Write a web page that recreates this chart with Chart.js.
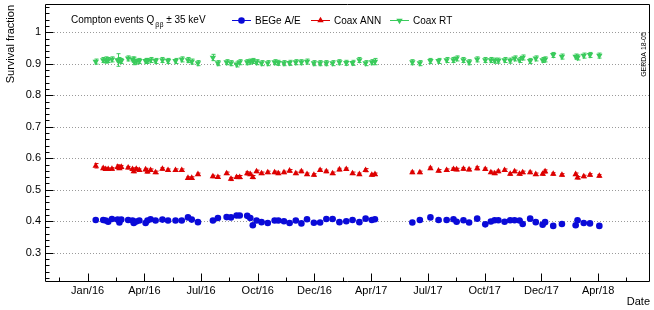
<!DOCTYPE html>
<html>
<head>
<meta charset="utf-8">
<script src="https://cdn.jsdelivr.net/npm/chart.js@4/dist/chart.umd.min.js"></script>
<style>
  html, body { margin: 0; padding: 0; background: #fff; }
  #wrap { width: 654px; height: 310px; }
</style>
</head>
<body>
<div id="wrap"><canvas id="chart" width="654" height="310"></canvas></div>
<script>
// calibration runs, days after the Jan/16 tick
const dates = [13, 25, 29, 33, 39, 48, 51, 54, 65, 72,
  74, 78, 83, 93, 96, 101, 109, 120, 129, 141,
  151, 161, 167, 177, 201, 209, 223, 230, 239, 244,
  256, 261, 265, 271, 279, 289, 300, 306, 315, 324,
  334, 343, 352, 363, 373, 383, 393, 404, 415, 425,
  436, 446, 456, 461, 521, 533, 550, 563, 576, 587,
  592, 603, 612, 625, 638, 647, 653, 659, 669, 678,
  685, 693, 698, 710, 719, 730, 734, 747, 761, 783,
  786, 796, 806, 821];

const begeAE = [0.404, 0.404, 0.402, 0.398, 0.407, 0.405, 0.396, 0.405, 0.404, 0.402,
  0.394, 0.399, 0.402, 0.394, 0.402, 0.406, 0.402, 0.405, 0.402, 0.402,
  0.402, 0.412, 0.405, 0.397, 0.402, 0.410, 0.413, 0.412, 0.418, 0.418,
  0.417, 0.410, 0.387, 0.402, 0.397, 0.394, 0.402, 0.402, 0.400, 0.394,
  0.402, 0.393, 0.406, 0.395, 0.396, 0.407, 0.407, 0.397, 0.400, 0.404,
  0.397, 0.408, 0.404, 0.406, 0.396, 0.404, 0.412, 0.404, 0.404, 0.406,
  0.398, 0.403, 0.396, 0.408, 0.390, 0.399, 0.403, 0.403, 0.398, 0.403,
  0.403, 0.402, 0.391, 0.408, 0.397, 0.389, 0.397, 0.385, 0.391, 0.387,
  0.403, 0.394, 0.393, 0.385];
const begeErr = [0.002, 0.002, 0.002, 0.002, 0.002, 0.002, 0.002, 0.002, 0.002, 0.002,
  0.002, 0.002, 0.002, 0.002, 0.002, 0.002, 0.002, 0.002, 0.002, 0.002,
  0.002, 0.002, 0.002, 0.002, 0.002, 0.002, 0.002, 0.002, 0.002, 0.002,
  0.002, 0.002, 0.002, 0.002, 0.002, 0.002, 0.002, 0.002, 0.002, 0.002,
  0.002, 0.002, 0.002, 0.002, 0.002, 0.002, 0.002, 0.002, 0.002, 0.002,
  0.002, 0.002, 0.002, 0.002, 0.002, 0.002, 0.002, 0.002, 0.002, 0.002,
  0.002, 0.002, 0.002, 0.002, 0.002, 0.002, 0.002, 0.002, 0.002, 0.002,
  0.002, 0.002, 0.002, 0.002, 0.002, 0.002, 0.002, 0.002, 0.002, 0.002,
  0.002, 0.002, 0.002, 0.002];

const coaxANN = [0.576, 0.568, 0.565, 0.565, 0.566, 0.572, 0.568, 0.572, 0.570, 0.565,
  0.558, 0.566, 0.562, 0.564, 0.557, 0.562, 0.555, 0.566, 0.562, 0.562,
  0.562, 0.537, 0.537, 0.549, 0.542, 0.540, 0.552, 0.534, 0.540, 0.540,
  0.552, 0.549, 0.540, 0.558, 0.552, 0.555, 0.555, 0.552, 0.555, 0.560,
  0.552, 0.558, 0.549, 0.547, 0.562, 0.558, 0.552, 0.564, 0.565, 0.552,
  0.549, 0.562, 0.547, 0.549, 0.555, 0.555, 0.568, 0.560, 0.562, 0.565,
  0.564, 0.566, 0.564, 0.568, 0.565, 0.555, 0.552, 0.558, 0.562, 0.550,
  0.558, 0.550, 0.555, 0.555, 0.549, 0.550, 0.558, 0.550, 0.547, 0.549,
  0.538, 0.542, 0.547, 0.544];
const annErr = [0.007, 0.004, 0.004, 0.004, 0.004, 0.007, 0.004, 0.005, 0.004, 0.004,
  0.004, 0.004, 0.004, 0.004, 0.004, 0.004, 0.004, 0.004, 0.004, 0.004,
  0.004, 0.004, 0.004, 0.004, 0.004, 0.004, 0.004, 0.005, 0.005, 0.005,
  0.005, 0.004, 0.005, 0.004, 0.004, 0.004, 0.004, 0.004, 0.004, 0.004,
  0.004, 0.004, 0.004, 0.004, 0.004, 0.004, 0.004, 0.004, 0.004, 0.004,
  0.004, 0.005, 0.004, 0.004, 0.004, 0.004, 0.004, 0.004, 0.004, 0.004,
  0.004, 0.004, 0.004, 0.005, 0.004, 0.004, 0.004, 0.004, 0.004, 0.004,
  0.004, 0.004, 0.004, 0.004, 0.004, 0.004, 0.005, 0.004, 0.004, 0.004,
  0.004, 0.004, 0.004, 0.004];

const coaxRT = [0.907, 0.912, 0.912, 0.912, 0.914, 0.912, 0.912, 0.909, 0.917, 0.914,
  0.909, 0.907, 0.909, 0.909, 0.909, 0.912, 0.909, 0.912, 0.909, 0.909,
  0.914, 0.912, 0.907, 0.902, 0.920, 0.902, 0.905, 0.902, 0.898, 0.905,
  0.905, 0.907, 0.909, 0.905, 0.902, 0.902, 0.905, 0.903, 0.902, 0.903,
  0.905, 0.905, 0.907, 0.902, 0.902, 0.902, 0.902, 0.905, 0.903, 0.903,
  0.912, 0.902, 0.905, 0.907, 0.905, 0.902, 0.909, 0.909, 0.912, 0.912,
  0.917, 0.912, 0.905, 0.914, 0.912, 0.912, 0.910, 0.910, 0.912, 0.910,
  0.917, 0.912, 0.920, 0.909, 0.917, 0.912, 0.914, 0.928, 0.923, 0.923,
  0.920, 0.926, 0.928, 0.926];
const rtErr = [0.008, 0.008, 0.010, 0.008, 0.008, 0.020, 0.008, 0.008, 0.008, 0.008,
  0.012, 0.008, 0.008, 0.008, 0.008, 0.008, 0.008, 0.008, 0.008, 0.008,
  0.008, 0.008, 0.008, 0.008, 0.010, 0.008, 0.008, 0.008, 0.008, 0.008,
  0.008, 0.008, 0.008, 0.008, 0.008, 0.008, 0.008, 0.008, 0.008, 0.008,
  0.008, 0.008, 0.008, 0.008, 0.008, 0.008, 0.008, 0.008, 0.008, 0.008,
  0.008, 0.008, 0.008, 0.010, 0.008, 0.008, 0.008, 0.008, 0.008, 0.008,
  0.008, 0.008, 0.008, 0.008, 0.008, 0.008, 0.008, 0.008, 0.008, 0.008,
  0.008, 0.008, 0.008, 0.008, 0.008, 0.008, 0.008, 0.008, 0.008, 0.008,
  0.008, 0.008, 0.008, 0.008];

const xTickLabels = ['Jan/16', 'Apr/16', 'Jul/16', 'Oct/16', 'Dec/16', 'Apr/17', 'Jul/17', 'Oct/17', 'Dec/17', 'Apr/18'];
const xTickStep = 91;
const yTicks = [0.3, 0.4, 0.5, 0.6, 0.7, 0.8, 0.9, 1];

const FONT = "'Liberation Sans', Arial, Helvetica, sans-serif";
const BLUE = '#0a0ad8', RED = '#dd0000', GREEN = '#3acb5c';

const series = [
  { label: 'BEGe A/E', values: begeAE, errors: begeErr, color: BLUE, style: 'circle', rotation: 0, radius: 3.3 },
  { label: 'Coax ANN', values: coaxANN, errors: annErr, color: RED, style: 'triangle', rotation: 0, radius: 3.7 },
  { label: 'Coax RT', values: coaxRT, errors: rtErr, color: GREEN, style: 'triangle', rotation: 180, radius: 3.7 }
];

function marker(ctx, s, x, y) {
  ctx.fillStyle = s.color;
  ctx.beginPath();
  if (s.style === 'circle') {
    ctx.arc(x, y, s.radius, 0, Math.PI * 2);
  } else {
    const r = s.radius, d = s.rotation ? -1 : 1;
    ctx.moveTo(x, y - d * r);
    ctx.lineTo(x + r * 0.866, y + d * r * 0.5);
    ctx.lineTo(x - r * 0.866, y + d * r * 0.5);
    ctx.closePath();
  }
  ctx.fill();
}

const rootFrame = {
  id: 'rootFrame',
  beforeDatasetsDraw(chart) {
    const { ctx, chartArea: a, scales: { x, y } } = chart;
    ctx.save();
    // dotted grid at labelled y values
    ctx.strokeStyle = '#9a9a9a';
    ctx.lineWidth = 1;
    ctx.setLineDash([1, 2]);
    yTicks.forEach(v => {
      const py = Math.round(y.getPixelForValue(v)) + 0.5;
      ctx.beginPath();
      ctx.moveTo(a.left, py);
      ctx.lineTo(a.right, py);
      ctx.stroke();
    });
    ctx.setLineDash([]);
    // error bars
    series.forEach(s => {
      ctx.strokeStyle = s.color;
      dates.forEach((d, i) => {
        const px = Math.round(x.getPixelForValue(d)) + 0.5;
        const lo = y.getPixelForValue(s.values[i] - s.errors[i]);
        const hi = y.getPixelForValue(s.values[i] + s.errors[i]);
        ctx.beginPath();
        ctx.moveTo(px, lo); ctx.lineTo(px, hi);
        ctx.moveTo(px - 2, lo); ctx.lineTo(px + 2, lo);
        ctx.moveTo(px - 2, hi); ctx.lineTo(px + 2, hi);
        ctx.stroke();
      });
    });
    ctx.restore();
  },
  afterDraw(chart) {
    const { ctx, chartArea: a, scales: { x, y } } = chart;
    const L = Math.round(a.left) + 0.5, R = Math.round(a.right) - 0.5;
    const T = Math.round(a.top) - 0.5, B = Math.round(a.bottom) + 0.5;
    ctx.save();
    ctx.strokeStyle = '#000';
    ctx.lineWidth = 1;
    ctx.beginPath();
    ctx.rect(L, T, R - L, B - T);
    ctx.stroke();

    // inner tick marks
    ctx.beginPath();
    for (let k = 11; k <= 54; k++) {
      const v = k / 50;
      const py = Math.round(y.getPixelForValue(v)) + 0.5;
      const len = k % 5 === 0 ? 8 : 4;
      ctx.moveTo(L, py); ctx.lineTo(L + len, py);
    }
    for (let k = -1; k <= 19; k++) {
      const v = k * xTickStep / 2;
      if (v < x.min || v > x.max) continue;
      const px = Math.round(x.getPixelForValue(v)) + 0.5;
      const len = k % 2 === 0 ? 8 : 4;
      ctx.moveTo(px, B); ctx.lineTo(px, B - len);
    }
    ctx.stroke();

    // header text + legend
    ctx.fillStyle = '#000';
    ctx.textBaseline = 'alphabetic';
    ctx.textAlign = 'left';
    ctx.font = '10px ' + FONT;
    let tx = 71;
    ctx.fillText('Compton events Q', tx, 23);
    tx += ctx.measureText('Compton events Q').width + 1;
    ctx.font = '7px ' + FONT;
    ctx.fillText('\u03b2\u03b2', tx, 26.5);
    tx += ctx.measureText('\u03b2\u03b2').width;
    ctx.font = '10px ' + FONT;
    ctx.fillText(' \u00b1 35 keV', tx, 23);

    const entries = [232, 311, 390];
    series.forEach((s, i) => {
      const x0 = entries[i];
      ctx.strokeStyle = s.color;
      ctx.beginPath();
      ctx.moveTo(x0, 20.5); ctx.lineTo(x0 + 19, 20.5);
      ctx.stroke();
      marker(ctx, s, x0 + 9.5, 20.5);
      ctx.fillStyle = '#000';
      ctx.font = '10px ' + FONT;
      ctx.fillText(s.label, x0 + 23, 24);
    });

    // GERDA tag
    ctx.translate(644.5, 54.5);
    ctx.rotate(-Math.PI / 2);
    ctx.font = '7px ' + FONT;
    ctx.textAlign = 'center';
    ctx.textBaseline = 'middle';
    ctx.fillText('GERDA 18-05', 0, 0);
    ctx.restore();
  }
};

new Chart(document.getElementById('chart'), {
  type: 'scatter',
  data: {
    datasets: series.map(s => ({
      label: s.label,
      data: dates.map((d, i) => ({ x: d, y: s.values[i] })),
      pointStyle: s.style,
      rotation: s.rotation,
      pointRadius: s.radius,
      backgroundColor: s.color,
      borderWidth: 0,
      showLine: false
    }))
  },
  options: {
    responsive: false,
    animation: false,
    devicePixelRatio: 1,
    layout: { padding: { top: 5, right: 3, left: 0, bottom: 0 } },
    plugins: { legend: { display: false }, tooltip: { enabled: false } },
    scales: {
      x: {
        type: 'linear',
        min: -68.4,
        max: 902.3,
        afterBuildTicks: s => { s.ticks = xTickLabels.map((_, i) => ({ value: i * xTickStep })); },
        afterFit: s => { s.height = 29; s.paddingLeft = 0; s.paddingRight = 0; },
        ticks: {
          callback: (v, i) => xTickLabels[i],
          font: { family: FONT, size: 11 },
          color: '#000',
          padding: 3,
          maxRotation: 0,
          autoSkip: false
        },
        grid: { display: false, drawTicks: false },
        border: { display: false },
        title: { display: true, text: 'Date', align: 'end', color: '#000', font: { family: FONT, size: 11 }, padding: { top: 0, bottom: 1 } }
      },
      y: {
        min: 0.21,
        max: 1.0867,
        afterBuildTicks: s => { s.ticks = yTicks.map(v => ({ value: v })); },
        afterFit: s => { s.width = 45; s.paddingTop = 0; s.paddingBottom = 0; },
        ticks: {
          callback: v => String(v),
          font: { family: FONT, size: 11 },
          color: '#000',
          padding: 4
        },
        grid: { display: false, drawTicks: false },
        border: { display: false },
        title: { display: true, text: 'Survival fraction', align: 'end', color: '#000', font: { family: FONT, size: 11 }, padding: { top: 4, bottom: 0 } }
      }
    }
  },
  plugins: [rootFrame]
});
</script>
</body>
</html>
